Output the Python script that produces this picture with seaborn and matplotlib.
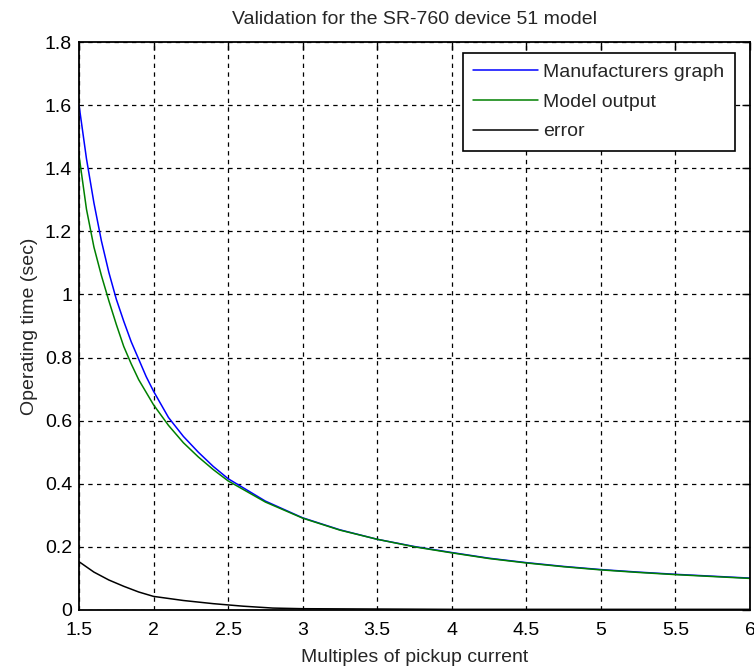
import numpy as np
import pandas as pd
import matplotlib
matplotlib.use("Agg")
import matplotlib.pyplot as plt
import seaborn as sns

# Data
x_manuf = [1.5, 1.55, 1.6, 1.65, 1.7, 1.75, 1.8, 1.85, 1.9, 1.95, 2.0, 2.1, 2.2, 2.3,
           2.4, 2.5, 2.75, 3.0, 3.25, 3.5, 3.75, 4.0, 4.25, 4.5, 4.75, 5.0, 5.25,
           5.5, 5.75, 6.0]
y_manuf = [1.60, 1.43, 1.29, 1.17, 1.07, 0.985, 0.915, 0.85, 0.795, 0.74, 0.693, 0.61,
           0.55, 0.50, 0.455, 0.416, 0.345, 0.292, 0.254, 0.224, 0.201, 0.182, 0.164,
           0.150, 0.138, 0.128, 0.120, 0.113, 0.107, 0.101]

x_model = [1.5, 1.55, 1.6, 1.65, 1.7, 1.75, 1.8, 1.85, 1.9, 1.95, 2.0, 2.1, 2.2, 2.3,
           2.4, 2.5, 2.75, 3.0, 3.25, 3.5, 3.75, 4.0, 4.25, 4.5, 4.75, 5.0, 5.25,
           5.5, 5.75, 6.0]
y_model = [1.44, 1.27, 1.15, 1.06, 0.98, 0.905, 0.835, 0.78, 0.73, 0.69, 0.65, 0.585,
           0.53, 0.485, 0.445, 0.409, 0.342, 0.291, 0.253, 0.224, 0.200, 0.181, 0.163,
           0.149, 0.137, 0.127, 0.119, 0.112, 0.106, 0.100]

x_error = [1.5, 1.6, 1.7, 1.8, 1.9, 2.0, 2.2, 2.4, 2.6, 2.8, 3.0, 3.5, 4.0, 5.0, 6.0]
y_error = [0.153, 0.12, 0.095, 0.075, 0.057, 0.043, 0.030, 0.020, 0.012, 0.006, 0.004,
           0.003, 0.002, 0.002, 0.002]

x_ticks = [1.5, 2, 2.5, 3, 3.5, 4, 4.5, 5, 5.5, 6]
x_tick_labels = ["1.5", "2", "2.5", "3", "3.5", "4", "4.5", "5", "5.5", "6"]
y_ticks = [0, 0.2, 0.4, 0.6, 0.8, 1.0, 1.2, 1.4, 1.6, 1.8]
y_tick_labels = ["0", "0.2", "0.4", "0.6", "0.8", "1", "1.2", "1.4", "1.6", "1.8"]

sns.set_style("white")
plt.rcParams["font.family"] = ["Liberation Sans", "DejaVu Sans"]

fig = plt.figure(figsize=(7.54, 6.70), dpi=100)
ax = fig.add_axes([0.1048, 0.0896, 0.8899, 0.8477])

sns.lineplot(x=x_manuf, y=y_manuf, ax=ax, color="#0000FF", lw=1.1, label="Manufacturers graph")
sns.lineplot(x=x_model, y=y_model, ax=ax, color="#008000", lw=1.1, label="Model output")
sns.lineplot(x=x_error, y=y_error, ax=ax, color="black", lw=1.1, label="error")

ax.set_xlim(1.5, 6)
ax.set_ylim(0, 1.8)
ax.set_xticks(x_ticks)
ax.set_xticklabels(x_tick_labels)
ax.set_yticks(y_ticks)
ax.set_yticklabels(y_tick_labels)

ax.grid(True, color="black", linestyle=(0, (3.5, 3.5)), linewidth=0.9)
ax.set_axisbelow(True)
for s in ax.spines.values():
    s.set_visible(True)
    s.set_color("black")
    s.set_linewidth(1.3)

ax.tick_params(axis="both", which="both", direction="in", length=6, width=1,
               top=True, right=True, labelsize=14, colors="black", pad=5)
ax.tick_params(axis="x", pad=9)

ax.set_title("Validation for the SR-760 device 51 model", fontsize=14, pad=13)
ax.set_xlabel("Multiples of pickup current", fontsize=14, labelpad=7)
ax.set_ylabel("Operating time (sec)", fontsize=14, labelpad=5)

leg = ax.legend(loc="upper right", bbox_to_anchor=(0.978, 0.981), fontsize=14,
                frameon=True, fancybox=False, framealpha=1, edgecolor="black",
                handlelength=3.3, borderpad=0.55, labelspacing=0.62, handletextpad=0.3,
                borderaxespad=0)
leg.get_frame().set_linewidth(1.2)

fig.savefig("out.png", dpi=100)
